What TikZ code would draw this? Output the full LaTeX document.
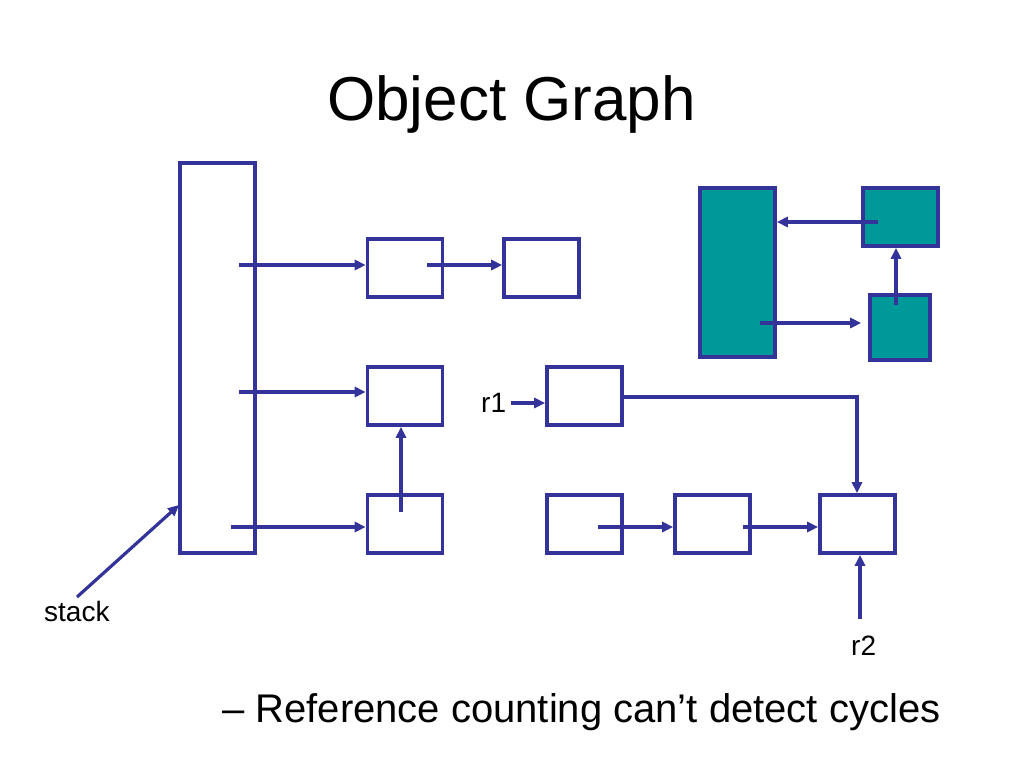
\documentclass[tikz,border=0pt]{standalone}
\usepackage{fontspec}
\setmainfont{Liberation Sans}
\usetikzlibrary{arrows.meta}
\definecolor{lineblue}{RGB}{51,51,153}
\definecolor{tealfill}{RGB}{0,153,153}
\begin{document}
\begin{tikzpicture}[x=1pt,y=-1pt,
  obj/.style={draw=lineblue,line width=3.6pt,rectangle,inner sep=0pt,minimum width=75pt,minimum height=58pt},
  tobj/.style={obj,fill=tealfill},
  conn/.style={draw=lineblue,line width=3.2pt,-{Triangle[length=11pt,width=10pt]}},
  lbl/.style={inner sep=0pt,font=\fontsize{28}{32}\selectfont}]
\useasboundingbox (0,0) rectangle (1024,768);
\node[inner sep=0pt,anchor=base,font=\fontsize{62}{70}\selectfont] (title) at (511.5,120) {Object Graph};
% stack
\node[obj,minimum width=75pt,minimum height=390pt] (stack) at (217.5,358) {};
% objects
\node[obj] (a1) at (405,268) {};
\node[obj] (a2) at (541.5,268) {};
\node[obj] (b1) at (405,396) {};
\node[obj] (c1) at (405,524) {};
\node[obj] (r1box) at (584.5,396) {};
\node[obj] (d1) at (584.5,524) {};
\node[obj] (d2) at (712.5,524) {};
\node[obj] (d3) at (857.5,524) {};
% teal
\node[tobj,minimum width=75pt,minimum height=169pt] (big) at (737.5,272.5) {};
\node[tobj] (t1) at (900.5,217) {};
\node[tobj,minimum width=60pt,minimum height=65pt] (t2) at (900,327.5) {};
% labels
\node[lbl,anchor=base west] (stacklbl) at (44,621) {stack};
\node[lbl,anchor=base west] (r1lbl) at (481,412) {r1};
\node[lbl,anchor=base west] (r2lbl) at (851,655) {r2};
% coordinates
\coordinate (s1) at (239,265);
\coordinate (s2) at (239,392);
\coordinate (s3) at (231,527);
\coordinate (a1p) at (427,265);
\coordinate (c1p) at (401,512);
\coordinate (stk) at (77,597);
\coordinate (stkend) at (179,505);
\coordinate (r1s) at (511,403);
\coordinate (r1p) at (623,397);
\coordinate (d1p) at (598,527);
\coordinate (d2p) at (743,527);
\coordinate (r2s) at (860,619);
\coordinate (t1p) at (878,222);
\coordinate (bigp) at (760,323);
\coordinate (t2p) at (896,305);
% connectors
\draw[conn] (s1) -- (s1 -| a1.west);
\draw[conn] (a1p) -- (a1p -| a2.west);
\draw[conn] (s2) -- (s2 -| b1.west);
\draw[conn] (s3) -- (s3 -| c1.west);
\draw[conn] (c1p) -- (c1p |- b1.south);
\draw[conn] (stk) -- (stkend);
\draw[conn] (r1s) -- (r1s -| r1box.west);
\draw[conn] (r1p) -| ([xshift=-0.5pt]d3.north);
\draw[conn] (d1p) -- (d1p -| d2.west);
\draw[conn] (d2p) -- (d2p -| d3.west);
\draw[conn] (r2s) -- (r2s |- d3.south);
\draw[conn] (t1p) -- (t1p -| big.east);
\draw[conn] (bigp) -- (bigp -| t1.west);
\draw[conn] (t2p) -- (t2p |- t1.south);
% bottom text
\node[inner sep=0pt,anchor=base west,font=\fontsize{40}{46}\selectfont] (bottom) at (222,722) {– Reference counting can’t detect cycles};
\end{tikzpicture}
\end{document}
